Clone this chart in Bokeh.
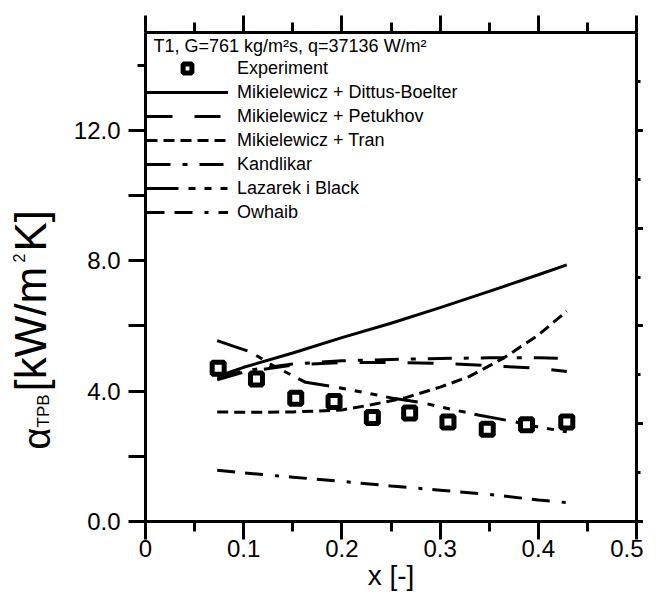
import math
from bokeh.plotting import figure
from bokeh.layouts import row
from bokeh.models import (LinearAxis, FixedTicker, Legend, LegendItem, Label, Range1d)
from bokeh.core.properties import value
from bokeh.embed import file_html
from bokeh.resources import INLINE

FONT = "Liberation Sans"

# ---------------- data ----------------
EXP_X = [0.074, 0.113, 0.153, 0.192, 0.231, 0.269, 0.308, 0.348, 0.388, 0.429]
EXP_Y = [4.70, 4.37, 3.78, 3.68, 3.19, 3.33, 3.05, 2.83, 2.97, 3.05]

DB_X = [0.073, 0.1, 0.15, 0.2, 0.25, 0.3, 0.35, 0.4, 0.429]
DB_Y = [4.45, 4.73, 5.17, 5.64, 6.08, 6.56, 7.06, 7.57, 7.87]

PET_X = [0.073, 0.1, 0.15, 0.2, 0.25, 0.3, 0.35, 0.4, 0.429]
PET_Y = [4.35, 4.58, 4.80, 4.88, 4.88, 4.85, 4.78, 4.70, 4.60]

TRAN_X = [0.073, 0.1, 0.15, 0.2, 0.23, 0.265, 0.3, 0.33, 0.365, 0.4, 0.429]
TRAN_Y = [3.36, 3.35, 3.36, 3.42, 3.58, 3.80, 4.12, 4.45, 5.02, 5.72, 6.45]

KAN_X = [0.073, 0.1, 0.15, 0.2, 0.25, 0.3, 0.35, 0.4, 0.429]
KAN_Y = [4.42, 4.62, 4.83, 4.93, 4.97, 5.00, 5.02, 5.02, 5.00]

LAZ_X = [0.073, 0.09, 0.107, 0.13, 0.163, 0.194, 0.224, 0.254, 0.281, 0.31, 0.34, 0.374, 0.4, 0.429]
LAZ_Y = [5.55, 5.37, 5.20, 4.78, 4.27, 4.12, 3.95, 3.77, 3.65, 3.45, 3.26, 3.07, 2.90, 2.75]

OWH_X = [0.073, 0.1, 0.15, 0.2, 0.25, 0.3, 0.35, 0.4, 0.429]
OWH_Y = [1.57, 1.49, 1.36, 1.23, 1.09, 0.96, 0.83, 0.66, 0.58]

SERIES_NAMES = ["Experiment", "Mikielewicz + Dittus-Boelter", "Mikielewicz + Petukhov",
                "Mikielewicz + Tran", "Kandlikar", "Lazarek i Black", "Owhaib"]
CONDITIONS = "T1, G=761 kg/m\u00b2s, q=37136 W/m\u00b2"
Y_LABEL_PARTS = ["\u03b1", "TPB", "[kW/m", "2", "K]"]

X_TICKS = [0, 0.1, 0.2, 0.3, 0.4, 0.5]
X_TICK_LABELS = ["0", "0.1", "0.2", "0.3", "0.4", "0.5"]
X_MINOR = [0.05, 0.15, 0.25, 0.35, 0.45]
Y_TICKS = [0, 2, 4, 6, 8, 10, 12]
Y_TICK_LABELS = ["0.0", "", "4.0", "", "8.0", "", "12.0"]
Y_MINOR = [14]
YR_TICKS = [0, 3, 6, 9, 12]
YR_MINOR = [1.5, 4.5, 7.5, 10.5, 13.5]

# ---------------- layout (page pixel coordinates) ----------------
W, H = 643, 598
WL = 70                                # width of the y-label strip
FL, FR, FT, FB = 145, 636, 32, 521     # frame edges in page px
X0, X1, Y0, Y1 = 0, 0.5, 0, 15


def sx(px):
    return X0 + (px - FL) / (FR - FL) * (X1 - X0)


def sy(py):
    return Y0 + (FB - py) / (FB - FT) * (Y1 - Y0)


# ---- main plot ----
p = figure(width=W - WL, height=H, output_backend="svg", toolbar_location=None,
           x_range=Range1d(X0, X1), y_range=Range1d(Y0, Y1),
           min_border_left=FL - WL, min_border_right=W - FR,
           min_border_top=FT, min_border_bottom=H - FB)
p.outline_line_color = None
p.grid.visible = False

# ---- y-axis title strip (separate small figure sharing the y range) ----
lab = figure(width=WL, height=H, output_backend="svg", toolbar_location=None,
             x_range=Range1d(0, WL), y_range=p.y_range,
             x_axis_location=None, y_axis_location=None,
             min_border_left=0, min_border_right=0,
             min_border_top=FT, min_border_bottom=H - FB)
lab.outline_line_color = None
lab.grid.visible = False
ANG = math.pi / 2
# (part index, centre-line x px, start y px, font size)
parts = [(0, 36, 449, "38px"), (1, 43, 427, "17px"), (2, 30, 391, "44px"),
         (3, 18, 262, "16px"), (4, 30, 251, "44px")]
for i, px, py, fs in parts:
    lab.text(x=[px], y=[sy(py)], text=[Y_LABEL_PARTS[i]], angle=ANG,
             text_font=value(FONT), text_font_size=value(fs), text_color="black",
             text_align="left", text_baseline="middle")


def style(ax, major_out, minor_out):
    ax.axis_line_width = 3
    ax.axis_line_color = "black"
    ax.major_tick_line_width = 3
    ax.minor_tick_line_width = 3
    ax.major_tick_line_color = "black"
    ax.minor_tick_line_color = "black"
    ax.major_tick_in = 0
    ax.minor_tick_in = 0
    ax.major_tick_out = major_out
    ax.minor_tick_out = minor_out
    ax.major_label_text_font = FONT
    ax.major_label_text_font_size = "24px"
    ax.major_label_text_color = "black"


xb = p.xaxis[0]
xb.ticker = FixedTicker(ticks=X_TICKS, minor_ticks=X_MINOR)
xb.major_label_overrides = dict(zip(X_TICKS, X_TICK_LABELS))
style(xb, 18, 10)
xb.major_label_standoff = 0
xb.axis_label = "x [-]"
xb.axis_label_text_font = FONT
xb.axis_label_text_font_size = "28px"
xb.axis_label_text_font_style = "normal"
xb.axis_label_text_color = "black"
xb.axis_label_standoff = 0

yl = p.yaxis[0]
yl.ticker = FixedTicker(ticks=Y_TICKS, minor_ticks=Y_MINOR)
yl.major_label_overrides = dict(zip(Y_TICKS, Y_TICK_LABELS))
style(yl, 17, 8)
yl.major_label_standoff = 8

xt = LinearAxis(ticker=FixedTicker(ticks=X_TICKS, minor_ticks=X_MINOR))
style(xt, 17, 10)
xt.major_label_overrides = {t: "" for t in X_TICKS}
xt.major_label_text_font_size = "0px"
xt.major_label_standoff = 0
p.add_layout(xt, "above")

yr = LinearAxis(ticker=FixedTicker(ticks=YR_TICKS, minor_ticks=YR_MINOR))
style(yr, 7, 4)
yr.major_label_overrides = {t: "" for t in YR_TICKS}
yr.major_label_text_font_size = "0px"
yr.major_label_standoff = 0
p.add_layout(yr, "right")

# ---------------- glyphs ----------------
LW = 3
r_db = p.line(DB_X, DB_Y, line_width=LW, line_color="black")
r_pet = p.line(PET_X, PET_Y, line_width=LW, line_color="black", line_dash="26 22")
r_tran = p.line(TRAN_X, TRAN_Y, line_width=LW, line_color="black", line_dash="11 6")
r_kan = p.line(KAN_X, KAN_Y, line_width=LW, line_color="black", line_dash="24 12 5 12")
r_laz = p.line(LAZ_X, LAZ_Y, line_width=LW, line_color="black", line_dash="32 10 7 9 7 9 7 9")
r_owh = p.line(OWH_X, OWH_Y, line_width=LW, line_color="black", line_dash="18 10 18 12 4 10")
r_exp = p.scatter(EXP_X, EXP_Y, marker="square", size=12, fill_color="white",
                  line_color="black", line_width=5)

# legend: first row centred at page y=68, rows 24 px apart, glyphs start at frame edge
LEG_ROW_H, LEG_SPACING = 22, 2
leg_h = len(SERIES_NAMES) * LEG_ROW_H + (len(SERIES_NAMES) - 1) * LEG_SPACING
leg_top = 68 - LEG_ROW_H / 2
renderers = [r_exp, r_db, r_pet, r_tran, r_kan, r_laz, r_owh]
legend = Legend(items=[LegendItem(label=n, renderers=[r]) for n, r in zip(SERIES_NAMES, renderers)],
                location=(1, int(round(FB - (leg_top + leg_h)))),
                glyph_width=82, glyph_height=LEG_ROW_H, label_height=LEG_ROW_H,
                spacing=LEG_SPACING, padding=0, margin=0, label_standoff=9,
                label_text_font=FONT, label_text_font_size="18px",
                label_text_baseline="middle", label_text_color="black",
                border_line_color=None, background_fill_alpha=0)
p.add_layout(legend)

p.add_layout(Label(x=sx(153), y=sy(45), text=CONDITIONS, text_font=FONT,
                   text_font_size="18px", text_color="black",
                   text_baseline="middle", text_align="left"))

layout = row(lab, p)
open("out.html", "w").write(file_html(layout, INLINE))
